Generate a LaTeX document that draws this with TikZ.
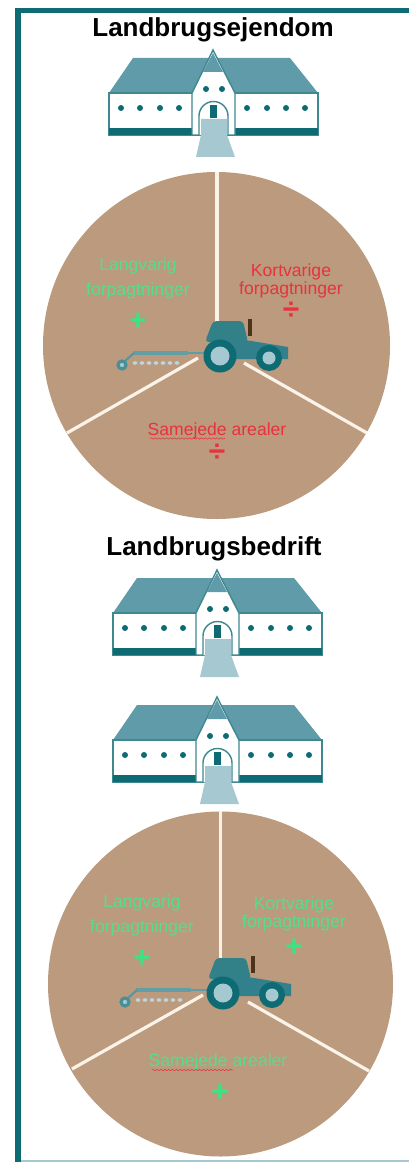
\documentclass[tikz,border=0pt]{standalone}
\usepackage{fontspec}
\setmainfont{Liberation Sans}
\usetikzlibrary{decorations.pathmorphing}
\definecolor{frameteal}{HTML}{0E6A73}
\definecolor{roofteal}{HTML}{5F9BA8}
\definecolor{pathblue}{HTML}{A6C8D0}
\definecolor{fieldtan}{HTML}{BC9A7E}
\definecolor{spokecream}{HTML}{FBF3E8}
\definecolor{plusgreen}{HTML}{38E585}
\definecolor{textgreen}{HTML}{58DC8C}
\definecolor{textred}{HTML}{E8323C}
\newcommand{\lbl}{\fontsize{10}{10.2}\selectfont}

\begin{document}
\begin{tikzpicture}[
      x=0.02cm,
      y=-0.02cm,
      heading/.style={font=\fontsize{14.8}{18}\selectfont\bfseries,text=black,inner sep=0pt},
      gainlabel/.style={font=\lbl,text=textgreen,align=center,inner sep=0pt},
      losslabel/.style={font=\lbl,text=textred,align=center,inner sep=0pt},
      plussign/.style={font=\fontsize{17}{17}\selectfont\bfseries,text=plusgreen,inner sep=0pt},
      minussign/.style={font=\fontsize{17}{17}\selectfont\bfseries,text=textred,inner sep=0pt},
      field/.style={fill=fieldtan},
      spoke/.style={spokecream,line width=0.064cm},
      squiggle/.style={textred,line width=0.3pt,decorate,decoration={snake,amplitude=0.4pt,segment length=2.2pt}},
      wall/.style={fill=white,draw=frameteal!80,line width=0.8pt},
      farm/.pic={
        \fill[roofteal] (-80,8) -- (77,8) -- (105,43) -- (-104,43) -- cycle;
        \draw[wall] (-104,43) rectangle (105,85);
        \fill[frameteal] (-104,78) rectangle (105,85);
        \foreach \wx in {-92,-73,-53,-34,34,54,73,92}
          \fill[frameteal] (\wx,58) circle (3);
        \draw[wall] (-21,85) -- (-21,43) -- (0,0) -- (22,43) -- (22,85) -- cycle;
        \fill[roofteal] (0,3) -- (-10,22) -- (10,22) -- cycle;
        \fill[frameteal] (-7,39) circle (3) (9,39) circle (3);
        \draw[wall] (-14,85) -- (-14,66) arc[start angle=180,end angle=360,radius=14.5] -- (15,85);
        \fill[frameteal] (-3,55) rectangle (4,68);
        \fill[pathblue] (-12,69) -- (14,69) -- (14,85) -- (22,107) -- (-17,107) -- (-12,85) -- cycle;
      },
      tractor/.pic={
        % harrow first, the tractor sits on top of its drawbar
        \draw[roofteal,line width=0.8pt] (-33,-3) -- (-15,-3);
        \draw[frameteal!65,line width=2.2pt] (-87,-3) -- (-32,-3);
        \draw[frameteal!70,line width=1.2pt] (-95,5) -- (-86,-3);
        \draw[frameteal!75,line width=1.8pt,fill=pathblue] (-98,9) circle (4);
        \foreach \tx in {-85,-78,-71,-64,-57,-50,-43}
          \fill[pathblue!75] (\tx,7) ellipse (2.4 and 1.8);
        \fill[frameteal!85,rounded corners=2pt] (-7,-35) -- (23,-35) -- (28,-14) -- (-15,-14) -- cycle;
        \fill[frameteal!55!roofteal] (25,-16) -- (68,-9) -- (68,3) -- (-5,3) -- (-5,-16) -- cycle;
        \fill[brown!40!black] (28,-37) rectangle (32,-20);
        \fill[frameteal] (0,0) circle (16.5);
        \fill[pathblue] (0,0) circle (9.5);
        \fill[frameteal] (49,2) circle (13);
        \fill[pathblue] (49,2) circle (6.5);
      }
    ]
      \useasboundingbox (0,0) rectangle (409,1162);
      \fill[white] (0,0) rectangle (409,1162);
      % frame
      \coordinate (framebl) at (18,1162);
      \coordinate (frametl) at (18,10.5);
      \coordinate (frametr) at (409,10.5);
      \coordinate (framebr) at (409,1161);
      \draw[pathblue,line width=0.03cm] (framebl |- framebr) -- (framebr);
      \draw[frameteal,line width=0.11cm] (framebl) -- (frametl) -- (frametr);

      % Landbrugsejendom
      \node[heading] (titleone) at (213,30) {Landbrugsejendom};
      \pic at (213,50) {farm};
      \fill[field] (216.5,345.5) circle (173.5);
      \coordinate (leftendone) at (198,358);
      \coordinate (rightendone) at (244,363);
      \coordinate (toprimone) at (217,172);
      \coordinate (leftrimone) at (67,433);
      \coordinate (rightrimone) at (367,433);
      \draw[spoke] (toprimone) -- (217,322);
      \draw[spoke] (leftrimone) -- (leftendone);
      \draw[spoke] (rightrimone) -- (rightendone);
      \pic at (220,356) {tractor};
      \node[gainlabel] (longone) at (138,278) {Langvarig\\[4pt]forpagtninger};
      \node[plussign] (plusone) at (138,322) {+};
      \node[losslabel] (shortone) at (291,281) {Kortvarige\\forpagtninger};
      \node[minussign] (minusone) at (291,311) {÷};
      \node[losslabel] (sharedone) at (217,431) {Samejede arealer};
      \node[minussign] (minustwo) at (217,453) {÷};
      \draw[squiggle] (150,438.5) -- (225,438.5);

      % Landbrugsbedrift
      \node[heading] (titletwo) at (214,549) {Landbrugsbedrift};
      \pic at (217,570) {farm};
      \pic at (217,697) {farm};
      \fill[field] (220.5,984) circle (172.5);
      \coordinate (leftendtwo) at (203,995);
      \coordinate (rightendtwo) at (248,1002);
      \coordinate (toprimtwo) at (220.5,811);
      \coordinate (leftrimtwo) at (72,1069);
      \coordinate (rightrimtwo) at (369,1071);
      \draw[spoke] (toprimtwo) -- (220.5,960);
      \draw[spoke] (leftrimtwo) -- (leftendtwo);
      \draw[spoke] (rightrimtwo) -- (rightendtwo);
      \pic at (223,993) {tractor};
      \node[gainlabel] (longtwo) at (142,915.5) {Langvarig\\[4pt]forpagtninger};
      \node[plussign] (plustwo) at (142,959) {+};
      \node[gainlabel] (shorttwo) at (294,914) {Kortvarige\\forpagtninger};
      \node[plussign] (plusthree) at (294,948) {+};
      \node[gainlabel] (sharedtwo) at (218,1062) {Samejede arealer};
      \node[plussign] (plusfour) at (220,1093) {+};
      \draw[squiggle] (152,1070) -- (233,1070);
    \end{tikzpicture}
\end{document}
